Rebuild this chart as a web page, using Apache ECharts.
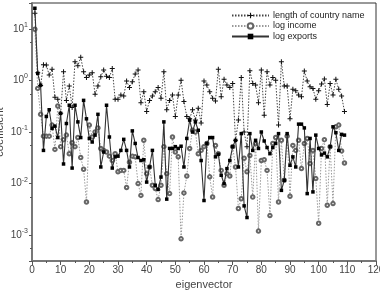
<!DOCTYPE html>
<html lang="en">
<head>
    <meta charset="utf-8">
    <title>eigenvector coefficients</title>
    <script src="https://cdn.jsdelivr.net/npm/echarts@6/dist/echarts.min.js"></script>
    <style>
        html, body { margin: 0; padding: 0; background: #fff; }
        #chart { width: 380px; height: 293px; }
    </style>
</head>
<body>
<div id="chart"></div>
<script type="text/javascript">
    // values, eigenvector 1..109
    var nameLength = [20, 1.4, 0.8, 2.0, 1.98, 1.27, 1.64, 0.47, 0.43, 0.23,
        1.47, 0.41, 0.78, 0.3, 2.3, 1.93, 2.8, 1.47, 1.14, 1.27,
        1.41, 0.54, 0.78, 1.18, 1.59, 1.21, 1.14, 1.71, 0.43, 0.43,
        0.52, 0.5, 0.97, 0.73, 0.94, 1.33, 1.59, 0.37, 0.6, 0.25,
        0.41, 0.5, 0.6, 0.73, 0.45, 1.47, 0.27, 0.41, 0.52, 0.2,
        0.52, 1.01, 0.39, 0.2, 0.18, 0.27, 0.17, 0.29, 0.15, 0.97,
        0.81, 0.6, 0.45, 0.4, 1.64, 0.48, 1.05, 0.81, 0.73, 0.87,
        0.069, 0.17, 1.14, 0.10, 0.052, 1.54, 0.87, 0.81, 0.37, 1.59,
        0.21, 1.47, 0.81, 1.14, 1.01, 0.136, 2.3, 0.78, 0.78, 0.18,
        0.67, 0.63, 0.52, 0.48, 1.52, 0.97, 0.75, 0.7, 0.43, 0.63,
        0.85, 1.06, 0.34, 0.87, 0.52, 1.05, 0.67, 0.5, 0.25];

    var logIncome = [9.8, 0.7, 0.22, 0.083, 0.083, 0.083, 0.136, 0.046, 0.32, 0.052,
        0.071, 0.087, 0.038, 0.062, 0.052, 0.078, 0.032, 0.019, 0.0044, 0.136,
        0.08, 0.1, 0.12, 0.048, 0.044, 0.041, 0.034, 0.028, 0.038, 0.017,
        0.018, 0.018, 0.0084, 0.026, 0.034, 0.033, 0.01, 0.0059, 0.069, 0.0156,
        0.021, 0.0093, 0.008, 0.0049, 0.0093, 0.052, 0.0156, 0.0064, 0.08, 0.041,
        0.033, 0.00085, 0.0066, 0.014, 0.048, 0.108, 0.1, 0.038, 0.044, 0.052,
        0.06, 0.0135, 0.0055, 0.055, 0.038, 0.018, 0.0093, 0.0156, 0.014, 0.052,
        0.021, 0.0033, 0.0051, 0.031, 0.017, 0.035, 0.0055, 0.06, 0.0012, 0.028,
        0.029, 0.018, 0.0024, 0.06, 0.078, 0.0044, 0.069, 0.0116, 0.083, 0.0057,
        0.055, 0.044, 0.069, 0.0196, 0.06, 0.075, 0.0245, 0.044, 0.0125, 0.0017,
        0.048, 0.071, 0.0038, 0.052, 0.0041, 0.126, 0.136, 0.043, 0.025];

    var logExports = [25, 1.37, 0.81, 0.044, 0.2, 0.27, 0.117, 0.13, 0.078, 0.23,
        0.024, 0.146, 0.33, 0.02, 0.33, 0.157, 0.078, 0.41, 0.18, 0.075,
        0.064, 0.087, 0.22, 0.021, 0.041, 0.33, 0.08, 0.02, 0.033, 0.034,
        0.044, 0.072, 0.044, 0.021, 0.105, 0.06, 0.032, 0.028, 0.029, 0.0107,
        0.021, 0.044, 0.0093, 0.0077, 0.0134, 0.157, 0.005, 0.048, 0.048, 0.052,
        0.048, 0.053, 0.021, 0.075, 0.17, 0.1, 0.157, 0.108, 0.028, 0.0047,
        0.06, 0.078, 0.078, 0.033, 0.037, 0.0145, 0.01, 0.0195, 0.028, 0.052,
        0.069, 0.021, 0.093, 0.0037, 0.0022, 0.093, 0.044, 0.069, 0.048, 0.1,
        0.067, 0.05, 0.038, 0.05, 0.06, 0.093, 0.0074, 0.0116, 0.093, 0.0226,
        0.033, 0.021, 0.142, 0.142, 0.12, 0.0064, 0.075, 0.0069, 0.087, 0.048,
        0.036, 0.039, 0.033, 0.052, 0.126, 0.097, 0.044, 0.09, 0.087];

    var seriesNames = ['length of country name', 'log income', 'log exports'];
    var xTicks = [0, 10, 20, 30, 40, 50, 60, 70, 80, 90, 100, 110, 120];

    function pairs(arr) {
        return arr.map(function (v, i) { return [i + 1, v]; });
    }

    var plus = 'path://M4,0H6V4H10V6H6V10H4V6H0V4H4Z';
    var font = 'Liberation Sans';

    var myChart = echarts.init(document.getElementById('chart'));
    var option = {
        animation: false,
        textStyle: { fontFamily: font },
        grid: {
            left: 32, right: 4, top: 3, bottom: 32,
            outerBoundsMode: 'none',
            show: true, borderColor: '#333', borderWidth: 1
        },
        legend: {
            data: seriesNames,
            orient: 'vertical',
            left: 226, top: 6,
            itemWidth: 37, itemHeight: 7, itemGap: 1.5,
            textStyle: { fontSize: 9, color: '#222', fontFamily: font, padding: [0, 0, 0, -1] }
        },
        xAxis: {
            type: 'value',
            min: xTicks[0], max: xTicks[xTicks.length - 1], interval: 10,
            name: 'eigenvector', nameLocation: 'middle', nameGap: 16,
            nameTextStyle: { fontSize: 11, color: '#444' },
            axisLine: { lineStyle: { color: '#777', width: 2 } },
            axisTick: { inside: false, length: 4, lineStyle: { color: '#555' } },
            minorTick: { show: true, splitNumber: 2, length: 2, lineStyle: { color: '#555' } },
            axisLabel: { fontSize: 10, color: '#444', margin: 4 },
            splitLine: { show: false }
        },
        yAxis: {
            type: 'log', logBase: 10,
            min: Math.pow(10, -3.5), max: Math.pow(10, 1.5),
            name: 'coefficient', nameLocation: 'middle', nameGap: 27,
            nameMoveOverlap: false,
            nameTextStyle: { fontSize: 11, color: '#444' },
            axisLine: { show: true, lineStyle: { color: '#777', width: 2 } },
            axisTick: { inside: false, length: 3, lineStyle: { color: '#555' } },
            minorTick: { show: true, splitNumber: 2, length: 2, lineStyle: { color: '#555' } },
            axisLabel: {
                margin: 4,
                formatter: function (v) {
                    var e = Math.log10(v);
                    if (Math.abs(e - Math.round(e)) > 1e-6) return '';
                    return '{b|10}{s|' + Math.round(e) + '}';
                },
                rich: {
                    b: { fontSize: 10, color: '#444' },
                    s: { fontSize: 7, color: '#444', padding: [0, 0, 8, 0] }
                }
            },
            splitLine: { show: false }
        },
        series: [
            {
                name: seriesNames[0], type: 'line', data: pairs(nameLength),
                symbol: plus, symbolSize: 5, showSymbol: true,
                lineStyle: { color: '#444', width: 1, type: [1.5, 1.5] },
                itemStyle: { color: '#111' }, z: 3
            },
            {
                name: seriesNames[1], type: 'line', data: pairs(logIncome),
                symbol: 'emptyCircle', symbolSize: 3.5, showSymbol: true,
                lineStyle: { color: '#999', width: 1, type: [1.5, 1.5] },
                itemStyle: { color: '#666', borderWidth: 0.8 }, z: 2
            },
            {
                name: seriesNames[2], type: 'line', data: pairs(logExports),
                symbol: 'rect', symbolSize: 3.5, showSymbol: true,
                lineStyle: { color: '#333', width: 1.1 },
                itemStyle: { color: '#000' }, z: 4
            }
        ]
    };
    myChart.setOption(option);
</script>
</body>
</html>
